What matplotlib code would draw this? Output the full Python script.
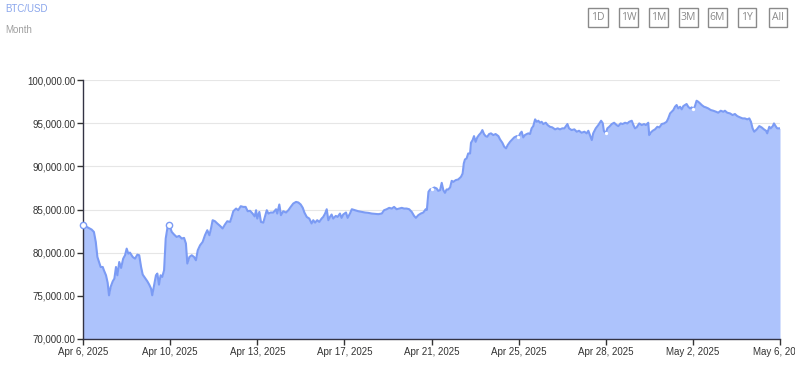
import matplotlib
matplotlib.use("Agg")
import matplotlib.pyplot as plt
from matplotlib.patches import FancyBboxPatch
import numpy as np

# ---- data (days since Apr 6, 2025 00:00 ; BTC/USD price) ----
days = [0.00, 0.16, 0.37, 0.47, 0.55, 0.62, 0.69, 0.76, 0.85, 0.90, 0.99, 1.06, 1.12, 1.19, 1.28, 1.35,
        1.42, 1.48, 1.56, 1.64, 1.73, 1.81, 1.88, 1.95, 2.02, 2.14, 2.24, 2.34, 2.42, 2.50, 2.57, 2.67,
        2.77, 2.85, 2.93, 2.98, 3.06, 3.14, 3.20, 3.27, 3.34, 3.41, 3.49, 3.56, 3.63, 3.71, 3.82, 3.92,
        4.03, 4.14, 4.25, 4.35, 4.43, 4.49, 4.58, 4.68, 4.78, 4.86, 4.94, 5.04, 5.15, 5.25, 5.35, 5.44,
        5.51, 5.58, 5.68, 5.78, 5.90, 6.01, 6.11, 6.21, 6.33, 6.40, 6.47, 6.59, 6.68, 6.79, 6.90, 7.00,
        7.09, 7.19, 7.30, 7.39, 7.45, 7.50, 7.59, 7.66, 7.76, 7.83, 7.91, 7.98, 8.08, 8.19, 8.31, 8.36,
        8.45, 8.52, 8.62, 8.74, 8.84, 8.94, 9.05, 9.17, 9.27, 9.37, 9.46, 9.53, 9.63, 9.74, 9.84, 9.91,
        9.99, 10.08, 10.17, 10.27, 10.34, 10.42, 10.49, 10.56, 10.63, 10.70, 10.77, 10.88, 10.96, 11.06,
        11.13, 11.20, 11.32, 11.39, 11.49, 11.57, 11.71, 11.85, 12.00, 12.14, 12.28, 12.43, 12.57, 12.71,
        12.86, 12.96, 13.07, 13.18, 13.29, 13.39, 13.50, 13.61, 13.72, 13.82, 13.93, 14.04, 14.15, 14.25,
        14.33, 14.43, 14.54, 14.65, 14.75, 14.80, 14.87, 14.94, 15.03, 15.12, 15.22, 15.29, 15.37, 15.44,
        15.51, 15.58, 15.65, 15.72, 15.80, 15.87, 15.94, 16.04, 16.15, 16.27, 16.34, 16.39, 16.44, 16.51,
        16.58, 16.66, 16.70, 16.77, 16.83, 16.90, 16.97, 17.04, 17.13, 17.19, 17.26, 17.33, 17.40, 17.48,
        17.56, 17.66, 17.76, 17.88, 17.95, 18.05, 18.13, 18.21, 18.28, 18.38, 18.48, 18.56, 18.67, 18.74,
        18.82, 18.88, 18.95, 19.02, 19.10, 19.17, 19.24, 19.31, 19.38, 19.46, 19.53, 19.60, 19.67, 19.74,
        19.81, 19.92, 20.00, 20.10, 20.20, 20.32, 20.43, 20.53, 20.63, 20.72, 20.79, 20.85, 20.92, 21.03,
        21.15, 21.25, 21.35, 21.46, 21.58, 21.68, 21.75, 21.82, 21.90, 21.96, 22.07, 22.18, 22.30, 22.37,
        22.42, 22.50, 22.57, 22.65, 22.76, 22.86, 22.97, 23.04, 23.14, 23.23, 23.33, 23.43, 23.51, 23.62,
        23.69, 23.76, 23.83, 23.94, 24.05, 24.15, 24.23, 24.33, 24.37, 24.43, 24.52, 24.62, 24.72, 24.81,
        24.91, 25.01, 25.12, 25.19, 25.27, 25.34, 25.41, 25.48, 25.55, 25.62, 25.70, 25.77, 25.84, 25.91,
        25.98, 26.05, 26.13, 26.20, 26.27, 26.34, 26.41, 26.48, 26.56, 26.63, 26.73, 26.81, 26.91, 27.02,
        27.13, 27.25, 27.34, 27.45, 27.56, 27.63, 27.73, 27.85, 27.96, 28.06, 28.16, 28.28, 28.39, 28.49,
        28.59, 28.68, 28.75, 28.82, 28.89, 29.00, 29.11, 29.21, 29.31, 29.40, 29.45, 29.54, 29.60, 29.69,
        29.74, 29.83, 29.88, 29.97, 30.00]

prices = [83260, 82990, 82680, 82400, 81240, 79500, 78920, 78340, 78340, 77960, 77380, 76530, 75060, 76030, 76680, 76990,
          78340, 77380, 78920, 78230, 79310, 79700, 80470, 79890, 80010, 79500, 79310, 79770, 79700, 78340, 77460, 77070,
          76680, 76300, 75840, 75060, 76220, 77380, 77580, 76300, 77380, 77190, 77960, 81640, 82800, 83260, 82400, 82100,
          81820, 81940, 81640, 81710, 81060, 78740, 79500, 79700, 79500, 79120, 80280, 80860, 81240, 82020, 82600, 82020,
          82800, 83760, 83640, 83380, 83100, 82800, 83260, 83640, 83560, 84140, 84800, 85110, 84920, 85380, 85300, 85300,
          84800, 84850, 84530, 84200, 84920, 83950, 84720, 83560, 83480, 84140, 84920, 84530, 84650, 84650, 85030, 84530,
          85580, 84340, 84800, 84650, 84920, 85300, 85690, 85880, 85810, 85580, 85190, 84650, 84140, 83950, 83380, 83760,
          83480, 83760, 83560, 83950, 84140, 84530, 85030, 83760, 84140, 84420, 83950, 84260, 84140, 84530,
          84030, 84420, 84650, 84030, 84530, 85030, 84920, 84800, 84720, 84650, 84610, 84530, 84490, 84460,
          84530, 84920, 85030, 85190, 85110, 85300, 85030, 85110, 85190, 85110, 85110, 85030, 84720, 84260,
          84030, 84340, 84530, 84650, 85030, 84950, 87050, 87320, 87400, 87550, 87440, 87160, 87240, 88090,
          87240, 86930, 87320, 87320, 87550, 88320, 88200, 88400, 88480, 88780, 89170, 90330, 90800, 90910,
          91490, 91490, 92730, 93040, 93500, 92840, 93350, 93620, 93890, 94200, 93740, 93500, 93430, 93740,
          93820, 93620, 93740, 93500, 93120, 92730, 92270, 92080, 92460, 92840, 93120, 93350, 93500, 93350,
          93820, 94010, 93350, 93620, 93740, 93820, 93740, 94400, 94660, 95440, 95160, 95280, 95050, 95160,
          94900, 95050, 94780, 94580, 94510, 94280, 94400, 94280, 94400, 94400, 94660, 94900, 94400, 94200,
          94280, 94010, 94120, 93890, 94010, 93820, 94120, 93620, 93040, 93820, 94400, 94780, 95280, 95000,
          94100, 93820, 94400, 94580, 94900, 95050, 94780, 94660, 94970, 94900, 95050, 94970, 95160, 95280,
          94780, 94400, 94510, 94970, 94780, 94900, 94780, 95050, 93620, 93890, 94120, 94280, 94580, 94510,
          94900, 94970, 95160, 95550, 96130, 96320, 96520, 96900, 97100, 96710, 96900, 96600, 96980, 97100,
          97220, 96900, 96710, 96830, 96600, 96980, 97600, 97480, 97290, 97100, 96900, 96830, 96710, 96520,
          96440, 96320, 96210, 96440, 96320, 96440, 96210, 96130, 95940, 96060, 95820, 95670, 95550, 95550,
          95440, 95550, 95160, 94400, 94010, 94280, 94660, 94510, 94280, 94120, 93820, 94580, 94400, 94660,
          94970, 94580, 94400, 94400, 94400]

tick_positions = [0, 3.75, 7.5, 11.25, 15, 18.75, 22.5, 26.25, 30]
tick_labels = ["Apr 6, 2025", "Apr 10, 2025", "Apr 13, 2025", "Apr 17, 2025", "Apr 21, 2025",
               "Apr 25, 2025", "Apr 28, 2025", "May 2, 2025", "May 6, 2025"]
y_ticks = [70000, 75000, 80000, 85000, 90000, 95000, 100000]
buttons = ["1D", "1W", "1M", "3M", "6M", "1Y", "All"]

# which tick dates carry a hollow marker (big) or a small white dot
big_marker_ticks = [0, 3.75]
small_marker_ticks = [15, 18.75, 22.5, 26.25]

plt.rcParams['font.family'] = ['Liberation Sans', 'DejaVu Sans']

W, H = 795, 370
fig = plt.figure(figsize=(W / 100, H / 100), dpi=100)
ax = fig.add_axes([83 / W, 1 - 339 / H, (780 - 83) / W, (339 - 80) / H])

line_c = "#7b9bf4"
fill_c = "#adc3fc"

d = np.array(days); p = np.array(prices)
big_idx = [int(np.argmin(np.abs(d - t))) for t in big_marker_ticks]
small_idx = [int(np.argmin(np.abs(d - t))) for t in small_marker_ticks]

ax.fill_between(d, p, 70000, color=fill_c, lw=0, zorder=2)
ax.plot(d, p, color=line_c, lw=1.5, zorder=3, solid_joinstyle="round")
ax.plot(d[big_idx], p[big_idx], 'o', ms=4.5, mfc="white", mec=line_c, mew=1.0, zorder=5, clip_on=False)
ax.plot(d[small_idx], p[small_idx], 'o', ms=2.4, mfc="white", mec="white", mew=0, zorder=4)

ax.set_xlim(0, 30)
ax.set_ylim(70000, 100000)
ax.set_yticks(y_ticks)
ax.set_yticklabels([f"{v:,.2f}" for v in y_ticks])
ax.set_xticks(tick_positions)
ax.set_xticklabels(tick_labels)
ax.tick_params(axis='both', labelsize=7, colors="#333333", length=4, width=1, pad=1.5)
ax.tick_params(axis='x', pad=2)
ax.grid(axis='y', color="#e6e6e6", lw=0.8, zorder=0)
ax.set_axisbelow(True)
for s in ["top", "right"]:
    ax.spines[s].set_visible(False)
for s in ["left", "bottom"]:
    ax.spines[s].set_color("#333344")
    ax.spines[s].set_linewidth(1.0)
for lbl in ax.get_xticklabels():
    lbl.set_clip_on(False)

# header texts
fig.text(5 / W, 1 - 9 / H, "BTC/USD", color="#8aa6ec", fontsize=7, va="center", ha="left")
fig.text(5 / W, 1 - 30 / H, "Month", color="#a0a0a0", fontsize=7, va="center", ha="left")

# range buttons
bx = [588, 619, 649, 679, 708, 738, 769]
bw = [20, 19, 19, 19, 19, 18, 18]
for x0, w, t in zip(bx, bw, buttons):
    r = FancyBboxPatch((x0 / W, 1 - 27 / H), w / W, 19 / H, boxstyle="square,pad=0",
                       transform=fig.transFigure, fill=False, ec="#8a8a8a", lw=1.0)
    fig.patches.append(r)
    fig.text((x0 + w / 2) / W, 1 - 17.5 / H, t, color="#8a8a8a", fontsize=7.5,
             ha="center", va="center", family=["Open Sans", "DejaVu Sans"])

fig.savefig("out.png", dpi=100)
